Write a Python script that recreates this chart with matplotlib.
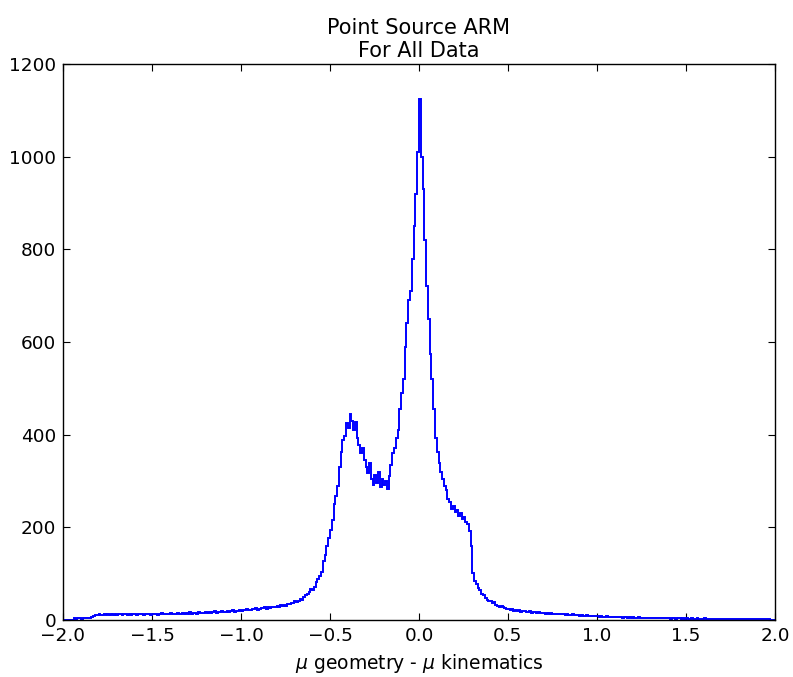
import numpy as np
import matplotlib
matplotlib.use("Agg")
import matplotlib.pyplot as plt

# Histogram range and bin count (bins of width 0.01 from -2 to 2)
x_min, x_max = -2.0, 2.0
n_bins = 400

# Counts, grouped by region (left to right)
seg_empty_left = [0, 0, 0, 0, 0, 0]
seg_far_left = [4, 3, 5, 4, 3, 4, 5, 4, 5, 4, 6]
seg_left_tail1 = [9, 11, 10, 12, 10, 11, 13, 10, 12, 11, 12, 10, 13, 11, 12, 14, 11,
                  12, 13, 11, 12, 10, 13, 12, 11, 14, 12, 13, 11, 12, 13, 12, 11]
seg_left_tail2 = [13, 12, 14, 11, 13, 15, 12, 14, 13, 12,
                  16, 13, 14, 12, 15, 14, 13, 16, 14, 15,
                  13, 17, 14, 15, 16, 14, 17, 15, 16, 15,
                  17, 16, 18, 15, 17, 19, 16, 18, 17, 19,
                  18, 17, 20, 18, 19, 21, 18, 20, 19, 21]
seg_left_rise1 = [20, 22, 21, 23, 22, 21, 24, 23, 25, 22,
                  24, 26, 25, 27, 24, 28, 26, 27, 29, 28,
                  30, 29, 32, 30, 33, 31, 35, 34, 37, 36]
seg_left_rise2 = [40, 38, 42, 46, 44, 50, 53, 56, 60, 66,
                  64, 72, 82, 88, 95, 104, 128, 140, 160, 178]
seg_core_left = [194, 215, 250, 268, 290, 330, 362, 388, 398, 425,
                 415, 445, 430, 410, 428, 392, 378, 360, 372, 345,
                 330, 318, 338, 305, 292, 312, 296, 320, 288, 305,
                 292, 300, 282, 310, 335, 360, 372, 392, 410, 455,
                 490, 520, 590, 640, 690, 710, 780, 850, 920, 1010]
seg_core_right = [1125, 1000, 930, 820, 720, 650, 575, 520, 455, 392,
                  362, 338, 320, 305, 290, 280, 262, 255, 240, 246,
                  232, 238, 225, 230, 218, 222, 212, 208, 192, 160,
                  102, 84, 78, 68, 64, 56, 53, 47, 44, 40,
                  41, 36, 38, 33, 30, 29, 31, 27, 26, 24]
seg_right_tail1 = [23, 22, 24, 20, 21, 19, 22, 18, 20, 19,
                   18, 17, 19, 16, 18, 17, 15, 17, 16, 15,
                   16, 14, 15, 13, 15, 14, 13, 14, 12, 13,
                   12, 13, 11, 12, 11, 10, 12, 10, 11, 10,
                   9, 10, 9, 8, 10, 9, 8, 9, 8, 8]
seg_right_tail2 = [8, 7, 8, 7, 7, 8, 6, 7, 7, 6,
                   7, 6, 6, 7, 5, 6, 6, 5, 6, 5,
                   6, 5, 5, 6, 5, 4, 5, 5, 4, 5,
                   5, 4, 5, 4, 4, 5, 4, 4, 5, 4,
                   4, 3, 4, 4, 3, 4, 4, 3, 4, 3]
seg_right_tail3 = [4, 3, 3, 4, 3, 3, 4, 3, 3, 3,
                   4, 3, 2, 3, 3, 3, 2, 3, 3, 2,
                   3, 3, 2, 3, 2, 3, 2, 2, 3, 2,
                   3, 2, 2, 3, 2, 2, 2, 3, 2, 2,
                   2, 3, 2, 2, 2, 2, 2]
seg_empty_right = [0, 0, 0]

counts = np.array(seg_empty_left + seg_far_left + seg_left_tail1 + seg_left_tail2 +
                  seg_left_rise1 + seg_left_rise2 + seg_core_left + seg_core_right +
                  seg_right_tail1 + seg_right_tail2 + seg_right_tail3 + seg_empty_right,
                  dtype=float)

x_ticks = [-2.0, -1.5, -1.0, -0.5, 0.0, 0.5, 1.0, 1.5, 2.0]
y_ticks = [0, 200, 400, 600, 800, 1000, 1200]

title_text = "Point Source ARM\nFor All Data"
xlabel_text = r"$\mu$ geometry - $\mu$ kinematics"

plt.rcParams["mathtext.fontset"] = "dejavusans"
fig = plt.figure(figsize=(7.93, 6.77), dpi=100, facecolor="white")
ax = fig.add_axes([0.0794, 0.0842, 0.8978, 0.8213])

edges = np.linspace(x_min, x_max, n_bins + 1)
centers = 0.5 * (edges[:-1] + edges[1:])
ax.hist(centers, bins=edges, weights=counts, histtype="step", color="#0000ff", linewidth=1.4)

ax.set_xlim(x_min, x_max)
ax.set_ylim(0, 1200)
ax.set_xticks(x_ticks)
ax.set_yticks(y_ticks)
ax.tick_params(direction="in", top=True, right=True, length=5, width=0.8, labelsize=13.3, pad=5)
for s in ax.spines.values():
    s.set_linewidth(1.0)
ax.set_title(title_text, fontsize=15, pad=5)
ax.set_xlabel(xlabel_text, fontsize=13.5, labelpad=5)

fig.savefig("out.png", dpi=100, facecolor="white")
